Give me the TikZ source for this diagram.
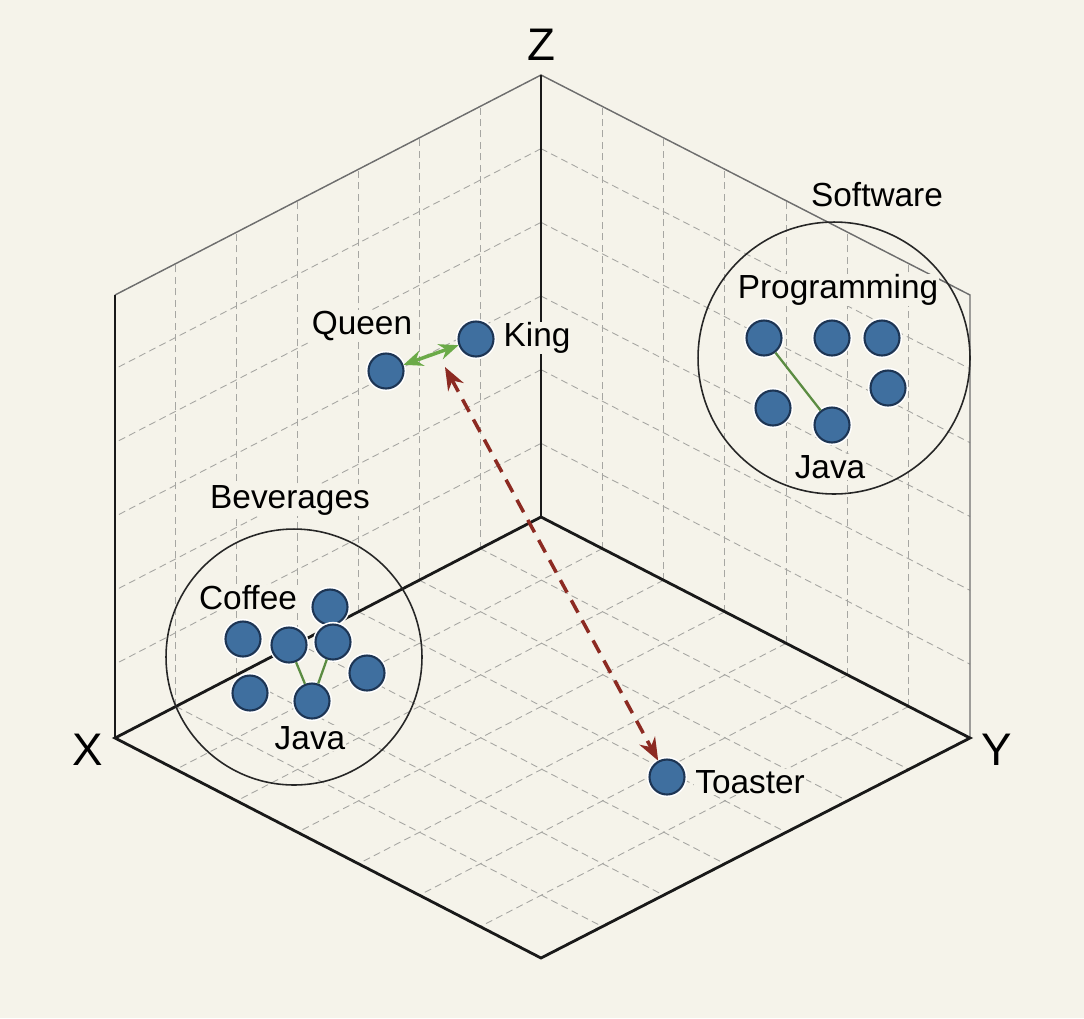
\documentclass[tikz,border=0pt]{standalone}
\usepackage{fontspec}
\setmainfont{Liberation Sans}
\usetikzlibrary{calc,positioning,arrows.meta}
\definecolor{bgcream}{HTML}{F5F3EA}
\definecolor{dotblue}{HTML}{3F6F9F}
\definecolor{dotline}{HTML}{1D3554}
\definecolor{gridgray}{HTML}{A6A6A2}
\definecolor{edgegray}{HTML}{6E6E6E}
\definecolor{arrowred}{HTML}{8C2A22}
\definecolor{arrowgreen}{HTML}{6BAA48}
\definecolor{linkgreen}{HTML}{5B8C42}
\tikzset{
  gridline/.style={draw=gridgray, line width=0.5pt, dash pattern=on 4pt off 2.5pt},
  axisline/.style={draw=black!90, line width=1.6pt},
  edgeline/.style={draw=edgegray, line width=0.8pt},
  wordpt/.style={circle, inner sep=0pt, minimum size=0.7cm, fill=dotblue, draw=dotline, line width=1.2pt, preaction={draw=white, line width=3pt}},
  cluster/.style={circle, draw=black!85, line width=0.9pt, inner sep=0pt},
  lbl/.style={font=\fontsize{19}{23}\selectfont, fill=bgcream, inner sep=0.5pt},
  axislbl/.style={font=\fontsize{26}{30}\selectfont},
  link/.style={draw=linkgreen, line width=1.3pt},
  analogy/.style={{Stealth[length=11pt,width=9pt]}-{Stealth[length=11pt,width=9pt]}, draw=arrowgreen, line width=2pt},
  contrast/.style={{Stealth[length=13pt,width=10pt]}-{Stealth[length=13pt,width=10pt]}, draw=arrowred, line width=2pt, dash pattern=on 8pt off 5pt}
}
\begin{document}
\begin{tikzpicture}[x=0.02cm,y=-0.02cm]
\fill[bgcream] (0,0) rectangle (1084,1018);
\useasboundingbox (0,0) rectangle (1084,1018);
\coordinate (O) at (541,517);
\coordinate (Zt) at (541,75);
\coordinate (Lt) at (115,295);
\coordinate (Rt) at (970,295);
\coordinate (X) at (115,738);
\coordinate (Y) at (970,738);
\coordinate (B) at (541,958);
\foreach \k in {1,...,6}{
  \draw[gridline] ($(O)!\k/7!(X)$) -- ($(Zt)!\k/7!(Lt)$);
  \draw[gridline] ($(O)!\k/7!(Y)$) -- ($(Zt)!\k/7!(Rt)$);
  \draw[gridline] ($(O)!\k/7!(X)$) -- ($(Y)!\k/7!(B)$);
  \draw[gridline] ($(O)!\k/7!(Y)$) -- ($(X)!\k/7!(B)$);
  \draw[gridline] ($(O)!\k/6!(Zt)$) -- ($(X)!\k/6!(Lt)$);
  \draw[gridline] ($(O)!\k/6!(Zt)$) -- ($(Y)!\k/6!(Rt)$);
}
\draw[edgeline] (Lt) -- (Zt) -- (Rt) -- (Y);
\draw[draw=black!90, line width=1.1pt] (X) -- (Lt);
\draw[axisline] (O) -- (Zt);
\draw[axisline] (O) -- (X) -- (B) -- (Y) -- (O);
\node[axislbl] (zlbl) at (541,45) {Z};
\node[axislbl] (xlbl) at (88,750) {X};
\node[axislbl] (ylbl) at (997,750) {Y};
\node[cluster, minimum size=5.44cm] (software) at (834,358) {};
\node[cluster, minimum size=5.12cm] (beverages) at (294,657) {};
\node[wordpt] (sw1) at (764,338) {};
\node[wordpt] (sw2) at (832,338) {};
\node[wordpt] (sw3) at (882,338) {};
\node[wordpt] (sw4) at (888,388) {};
\node[wordpt] (sw5) at (773,408) {};
\node[wordpt] (swjava) at (832,425) {};
\draw[link] (sw1) -- (swjava);
\node[wordpt] (bev1) at (330,607) {};
\node[wordpt] (bev2) at (243,639) {};
\node[wordpt] (bev3) at (289,645) {};
\node[wordpt] (bev4) at (333,642) {};
\node[wordpt] (bev5) at (367,673) {};
\node[wordpt] (bev6) at (250,693) {};
\node[wordpt] (bevjava) at (312,701) {};
\draw[link] (bev3) -- (bevjava) -- (bev4);
\node[wordpt] (queen) at (386,371) {};
\node[wordpt] (king) at (476,339) {};
\node[wordpt] (toaster) at (667,777) {};
\coordinate (kq) at (445,367);
\draw[analogy] (queen) -- (king);
\draw[contrast] (kq) -- (toaster);
\node[lbl] (queenlbl) at (362,326) {Queen};
\node[lbl] (kinglbl) at (537,338) {King};
\node[lbl] (toasterlbl) at (750,782) {Toaster};
\node[lbl] (softwarelbl) at (877,195) {Software};
\node[lbl] (programminglbl) at (838,290) {Programming};
\node[lbl] (swjavalbl) at (830,467) {Java};
\node[lbl] (beverageslbl) at (290,500) {Beverages};
\node[lbl] (coffeelbl) at (248,598) {Coffee};
\node[lbl] (bevjavalbl) at (310,738) {Java};
\end{tikzpicture}
\end{document}
